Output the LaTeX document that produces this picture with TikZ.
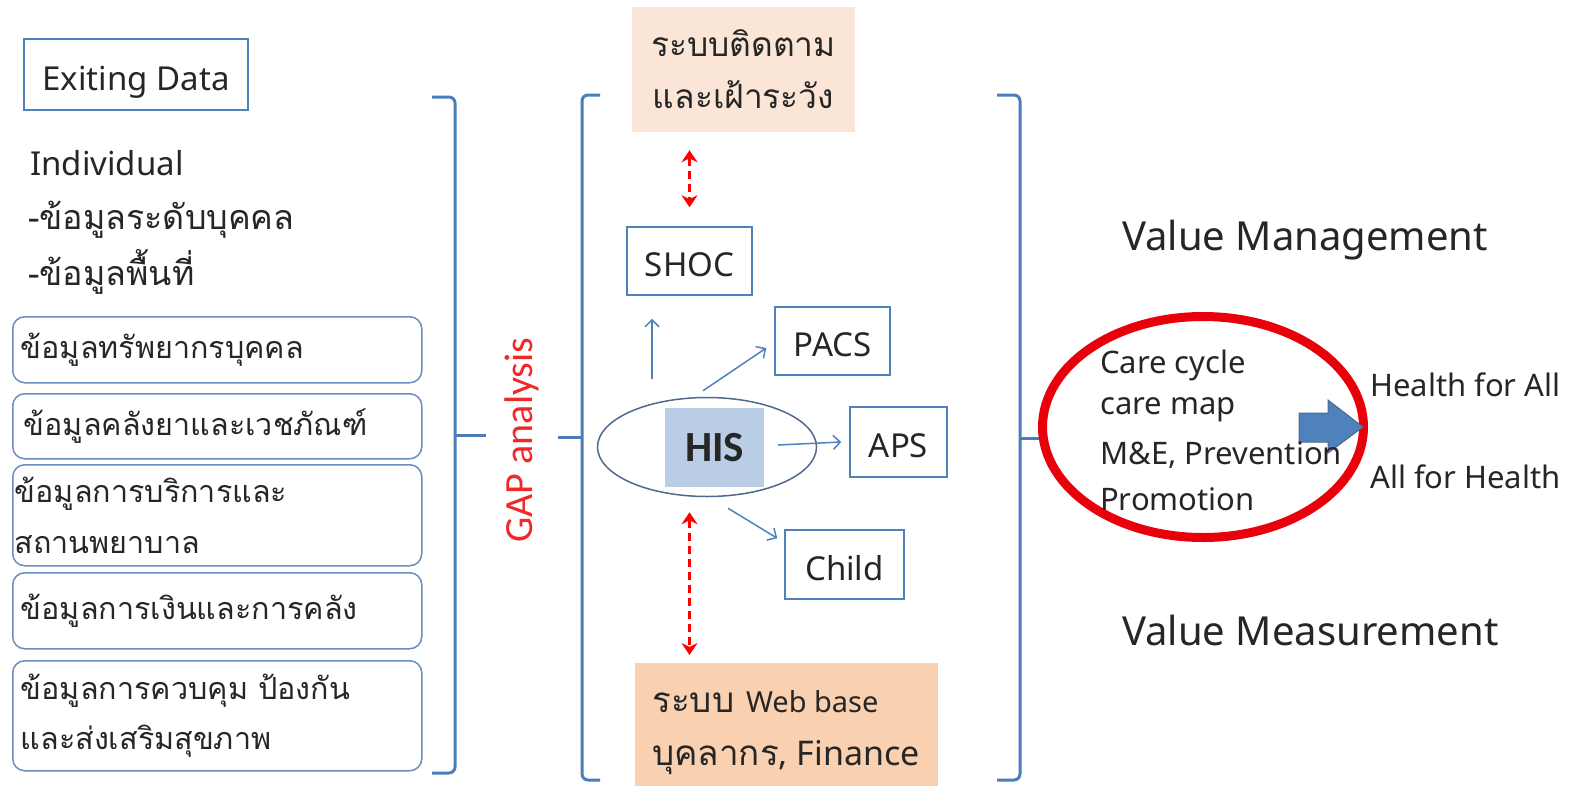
\documentclass[tikz,border=0pt]{standalone}
\usepackage{fontspec}
\setmainfont[Script=Thai]{Loma}
\newfontfamily\calfont{Carlito}
\newfontfamily\latfont{Noto Sans}
\usepackage{xcolor}
\usetikzlibrary{arrows.meta,shapes.geometric}
\definecolor{brackblue}{HTML}{4A7EBB}
\definecolor{boxblue}{HTML}{4F81BD}
\definecolor{roundline}{HTML}{6C8EBF}
\definecolor{peachlight}{HTML}{FBE5D6}
\definecolor{peachdark}{HTML}{F9D0B0}
\definecolor{hisfill}{HTML}{B9CDE5}
\definecolor{hisline}{HTML}{50688C}
\definecolor{ringred}{HTML}{E8000B}
\definecolor{gapred}{HTML}{F02828}
\definecolor{inkgray}{HTML}{262626}

\begin{document}
\begin{tikzpicture}[x=1pt,y=-1pt,font=\fontsize{30.5}{36}\selectfont,text=inkgray,
  plain/.style={inner sep=0pt,anchor=west},
  lat/.style={font=\latfont\fontsize{33}{40}\selectfont},
  small/.style={font=\latfont\fontsize{31}{36}\selectfont},
  big/.style={font=\latfont\fontsize{40}{46}\selectfont},
  brack/.style={draw=brackblue,line width=3pt,rounded corners=6pt},
  sysbox/.style={draw=boxblue,line width=1.5pt,inner sep=0pt,lat,text height=31pt,text depth=0pt},
  databox/.style={draw=roundline,line width=1.5pt,rounded corners=12pt,anchor=north west,
    inner xsep=8pt,inner ysep=0pt,text width=393pt,align=left},
  flow/.style={draw=boxblue,line width=1.5pt,-{Straight Barb[length=7pt,width=14pt]}},
  redarr/.style={draw=red,line width=3pt,dash pattern=on 8pt off 5pt,
    {Stealth[length=12pt,width=16pt]}-{Stealth[length=12pt,width=16pt]}}]
\useasboundingbox (0,0) rectangle (1569,785);

% left column
\node[sysbox,minimum width=224pt,minimum height=71pt] (exist) at (136,74.5) {Exiting Data};
\node[plain,lat] (indiv) at (30,163) {Individual};
\node[plain,font=\fontsize{34}{40}\selectfont] (lvl) at (28,220) {-ข้อมูลระดับบุคคล};
\node[plain,font=\fontsize{34}{40}\selectfont] (area) at (28,272) {-ข้อมูลพื้นที่};

\node[databox,minimum height=66pt] (hr) at (12,316) {ข้อมูลทรัพยากรบุคคล};
\node[databox,minimum height=65pt,inner xsep=11pt,text width=387pt] (drug) at (12,393) {ข้อมูลคลังยาและเวชภัณฑ์};
\node[databox,minimum height=101pt,inner xsep=2pt,text width=405pt,
  font=\fontsize{30.5}{51}\selectfont] (serv) at (12,464) {ข้อมูลการบริการและ\\สถานพยาบาล};
\node[databox,minimum height=76pt] (fin) at (12,572) {ข้อมูลการเงินและการคลัง};
\node[databox,minimum height=110pt,font=\fontsize{30.5}{50}\selectfont] (ctrl) at (12,660)
  {ข้อมูลการควบคุม ป้องกัน\\และส่งเสริมสุขภาพ};

\draw[brack] (432,97) -- (455,97) -- (455,773) -- (432,773);
\draw[brack] (455,435) -- (486,435);

\node[rotate=90,text=gapred,font=\calfont\fontsize{40}{40}\selectfont] (gap) at (522,440) {GAP analysis};

% middle column
\draw[brack] (600,95) -- (582,95) -- (582,780) -- (600,780);
\draw[brack] (558,437) -- (582,437);
\draw[brack] (997,95) -- (1020,95) -- (1020,780) -- (997,780);
\draw[brack] (1020,438) -- (1040,438);

\node[fill=peachlight,minimum width=223pt,minimum height=125pt,align=center,
  font=\fontsize{33.5}{52}\selectfont] (mon) at (743.5,69.5) {ระบบติดตาม\\และเฝ้าระวัง};
\node[sysbox,minimum width=125pt,minimum height=68pt] (shoc) at (689.5,261) {SHOC};
\node[sysbox,minimum width=115pt,minimum height=68pt] (pacs) at (832.5,341) {PACS};
\node[ellipse,draw=hisline,line width=1.5pt,minimum width=219pt,minimum height=99pt] (his) at (707,447) {};
\node[fill=hisfill,minimum width=99pt,minimum height=79pt,font=\calfont\bfseries\fontsize{43}{43}\selectfont]
  (hisbox) at (714.5,447.5) {HIS};
\node[sysbox,minimum width=97pt,minimum height=70pt] (aps) at (898.5,442) {APS};
\node[sysbox,minimum width=119pt,minimum height=69pt] (child) at (844.5,564.5) {Child};
\node[fill=peachdark,anchor=north west,minimum width=303pt,minimum height=130pt] (web) at (635,663) {};
\node[plain,align=left,font=\fontsize{35}{53}\selectfont] (webtxt) at (652,733)
  {ระบบ {\latfont\fontsize{29}{53}\selectfont Web base}\\บุคลากร{\latfont\fontsize{34}{53}\selectfont, Finance}};

\draw[redarr,shorten <=18pt,shorten >=19pt] (shoc.north |- mon.south) -- (shoc.north);
\draw[redarr,shorten <=15pt,shorten >=8pt] (his.south -| shoc.north) -- (web.north -| shoc.north);
\draw[flow,shorten <=18pt,shorten >=23pt] ([xshift=-55pt]his.north) -- ([xshift=-37.5pt]shoc.south);
\draw[flow] ([shift={(-4,-6)}]his.north) -- ([shift={(-8,7)}]pacs.west);
\draw[flow] ([shift={(71,-2)}]his.center) -- ([xshift=-8pt]aps.west);
\draw[flow] ([shift={(21,11)}]his.south) -- ([shift={(-7,9)}]child.north west);

% right column
\node[plain,big] (vmgmt) at (1122,240) {Value Management};
\node[plain,big] (vmeas) at (1122,630) {Value Measurement};
\node[ellipse,draw=ringred,line width=9pt,minimum width=321pt,minimum height=221pt] (ring) at (1203,427) {};
\draw[fill=boxblue,draw=hisline,line width=1pt] (1299,413) -- (1328,413) -- (1328,400) -- (1363,427)
  -- (1328,453) -- (1328,442) -- (1299,442) -- cycle;
\node[plain,small] (cyc) at (1100,365) {Care cycle};
\node[plain,small] (cmap) at (1100,410) {care map};
\node[plain,small] (mne) at (1100,455) {M\&E, Prevention};
\node[plain,small] (promo) at (1100,499) {Promotion};
\node[plain,small] (hfa) at (1370,385) {Health for All};
\node[plain,small] (afh) at (1370,477) {All for Health};
\end{tikzpicture}
\end{document}
